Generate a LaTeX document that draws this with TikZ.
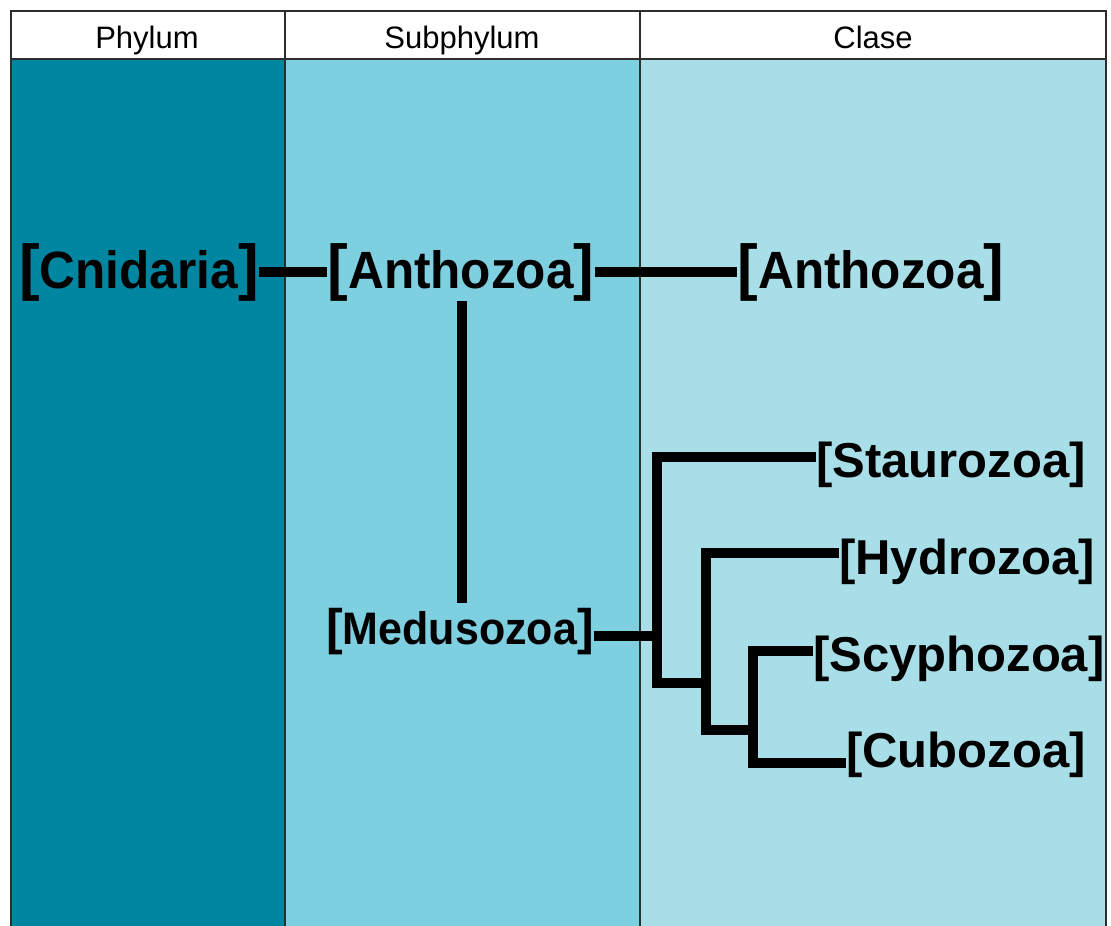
\documentclass[tikz,border=0pt]{standalone}
\usepackage{graphicx}
\usepackage{fontspec}
\setmainfont{Liberation Sans}
\definecolor{phyl}{RGB}{0,134,160}
\definecolor{subph}{RGB}{126,207,224}
\definecolor{clas}{RGB}{168,222,232}
\definecolor{rule}{RGB}{45,45,45}
\newcommand\mybrk[2]{{\fontsize{#1}{#1}\selectfont[}\scalebox{1}[1.06]{#2}{\fontsize{#1}{#1}\selectfont]}}
\begin{document}
\begin{tikzpicture}[x=1pt,y=-1pt,
  hdr/.style={inner sep=0pt,anchor=base,font=\fontsize{31}{31}\selectfont},
  big/.style={inner sep=0pt,font=\bfseries\fontsize{49.5}{49.5}\selectfont},
  mid/.style={inner sep=0pt,font=\bfseries\fontsize{43}{43}\selectfont},
  cls/.style={inner sep=0pt,anchor=west,font=\bfseries\fontsize{49}{49}\selectfont},
  br/.style={line width=10pt,line join=miter,line cap=butt,black},
  grid/.style={draw=rule,line width=1.3pt}]
\useasboundingbox (0,0) rectangle (1111,926);
% column fills
\fill[white] (11,11) rectangle (1106,59);
\fill[phyl] (11,59) rectangle (285,926);
\fill[subph] (285,59) rectangle (640,926);
\fill[clas] (640,59) rectangle (1106,926);
% grid
\draw[grid] (11,926) -- (11,11) -- (1106,11) -- (1106,926);
\draw[grid] (11,59) -- (1106,59);
\draw[grid] (285,11) -- (285,926);
\draw[grid] (640,11) -- (640,926);
% headers
\node[hdr] (hp) at (147,48) {Phylum};
\node[hdr] (hs) at (462,48) {Subphylum};
\node[hdr] (hc) at (873,48) {Clase};
% labels
\node[big] (cni) at (139,272) {\mybrk{62}{Cnidaria}};
\node[big] (ant1) at (461,272) {\mybrk{62}{Anthozoa}};
\node[big] (ant2) at (871,272) {\mybrk{62}{Anthozoa}};
\node[mid] (med) at (460,632) {\mybrk{50}{Medusozoa}};
\node[cls] (sta) at (816,465) {[Staurozoa]};
\node[cls] (hyd) at (839,562) {[Hydrozoa]};
\node[cls] (scy) at (813,659) {[Scyphozoa]};
\node[cls] (cub) at (846,755) {[Cubozoa]};
% tree coordinates
\coordinate (v1t) at (657,457);
\coordinate (v1b) at (657,683);
\coordinate (v2t) at (706,553);
\coordinate (v2b) at (706,730);
\coordinate (v3t) at (753,651);
\coordinate (v3b) at (753,763);
\coordinate (mj) at (657,636);
\coordinate (vx) at (462,0);
% connectors
\draw[br] (cni.east) -- (ant1.west);
\draw[br] (ant1.east) -- (ant2.west);
\draw[br] (vx |- ant1.south) -- ([yshift=6pt]vx |- med.north);
\draw[br] (med.east |- mj) -- (mj);
\draw[br] (sta.west |- v1t) -- (v1t) -- (v1b) -- (v2b |- v1b);
\draw[br] (hyd.west |- v2t) -- (v2t) -- (v2b) -- (v3b |- v2b);
\draw[br] (scy.west |- v3t) -- (v3t) -- (v3b) -- (cub.west |- v3b);
\end{tikzpicture}
\end{document}
